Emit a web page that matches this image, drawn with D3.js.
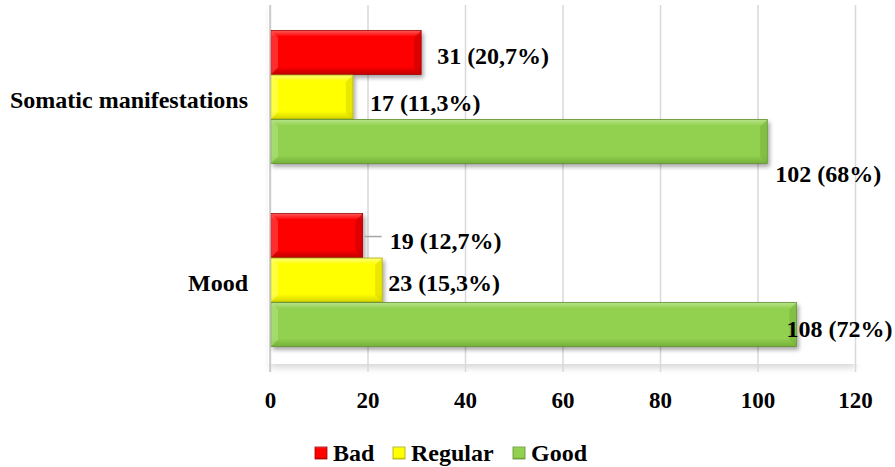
<!DOCTYPE html>
<html>
<head>
<meta charset="utf-8">
<script src="https://cdn.jsdelivr.net/npm/d3@7"></script>
<style>
  body { margin: 0; background: #fff; }
  text { font-family: "Liberation Serif", "Times New Roman", serif; font-weight: bold; }
</style>
</head>
<body>
<svg width="895" height="467"></svg>
<script>
var categories = ["Somatic manifestations", "Mood"];
var series = ["Bad", "Regular", "Good"];
var bad = [31, 19];
var regular = [17, 23];
var good = [102, 108];
var labels_bad = ["31 (20,7%)", "19 (12,7%)"];
var labels_regular = ["17 (11,3%)", "23 (15,3%)"];
var labels_good = ["102 (68%)", "108 (72%)"];
var x_ticks = [0, 20, 40, 60, 80, 100, 120];

var colors = { Bad: ["#ff5a5a", "#ff0000", "#c00000", "#a00000"],
               Regular: ["#ffff80", "#ffff00", "#d6d600", "#a8a800"],
               Good: ["#b8e48a", "#92d050", "#76b03a", "#5f8f2c"] };

// label nudges (dx, dy) relative to the bar end / centre, per series per category
var nudges = { Bad: [[16, 3], [27, 5]], Regular: [[17, 6], [6, 3]], Good: [[8, 32], [-10, 4]] };

var margin = { top: 5, left: 270 };
var svg = d3.select("svg");
var width = 855 - margin.left;
var height = 367;

const xscale = d3.scaleLinear().domain([0, 120]).range([0, width]);
const yscale = d3.scaleBand().domain(categories).range([0, height]).paddingInner(0.268).paddingOuter(0.1366);
const inner = d3.scaleBand().domain(series).range([0, yscale.bandwidth()]).padding(0.012);

var defs = svg.append("defs");
series.forEach(function (s) {
    var g = defs.append("linearGradient").attr("id", "grad_" + s)
        .attr("x1", 0).attr("x2", 0).attr("y1", 0).attr("y2", 1);
    g.append("stop").attr("offset", "0%").attr("stop-color", colors[s][0]);
    g.append("stop").attr("offset", "14%").attr("stop-color", colors[s][1]);
    g.append("stop").attr("offset", "82%").attr("stop-color", colors[s][1]);
    g.append("stop").attr("offset", "100%").attr("stop-color", colors[s][2]);
});
var f = defs.append("filter").attr("id", "shadow").attr("x", "-5%").attr("y", "-20%").attr("width", "115%").attr("height", "160%");
f.append("feDropShadow").attr("dx", 2).attr("dy", 3).attr("stdDeviation", 2).attr("flood-color", "#000").attr("flood-opacity", 0.35);
var pf = defs.append("filter").attr("id", "pshadow").attr("x", "-5%").attr("y", "-5%").attr("width", "110%").attr("height", "115%");
pf.append("feDropShadow").attr("dx", 0).attr("dy", 4).attr("stdDeviation", 3).attr("flood-color", "#000").attr("flood-opacity", 0.15);

var g = svg.append("g").attr("transform", `translate(${margin.left}, ${margin.top})`);

// plot area with soft shadow
g.append("rect").attr("x", 0).attr("y", 0).attr("width", width).attr("height", height - 8)
    .attr("fill", "#fff").attr("filter", "url(#pshadow)");
g.append("rect").attr("x", -2).attr("y", -10).attr("width", width + 30).attr("height", height + 2).attr("fill", "#fff");

const xAxis = d3.axisBottom(xscale).tickValues(x_ticks).tickSize(-height).tickPadding(20);
var ax = g.append("g").attr("transform", `translate(0, ${height})`).call(xAxis);
ax.select(".domain").remove();
ax.selectAll(".tick line").attr("stroke", "#d9d9d9").attr("stroke-width", 1.5);
ax.selectAll(".tick text").attr("font-size", 23).attr("fill", "#000")
    .style("font-family", "'Liberation Serif', serif").style("font-weight", "bold");

var rows = [];
categories.forEach(function (c, i) {
    rows.push({ cat: c, s: "Bad", v: bad[i], label: labels_bad[i], n: nudges.Bad[i] });
    rows.push({ cat: c, s: "Regular", v: regular[i], label: labels_regular[i], n: nudges.Regular[i] });
    rows.push({ cat: c, s: "Good", v: good[i], label: labels_good[i], n: nudges.Good[i] });
});

var bars = g.selectAll(".bar").data(rows).enter().append("g").attr("class", "bar")
    .attr("transform", function (d) { return `translate(0, ${yscale(d.cat) + inner(d.s)})`; });
bars.append("rect")
    .attr("x", 1).attr("y", 0)
    .attr("width", function (d) { return xscale(d.v) - 1; })
    .attr("height", inner.bandwidth())
    .attr("fill", function (d) { return "url(#grad_" + d.s + ")"; })
    .attr("stroke", function (d) { return colors[d.s][3]; })
    .attr("stroke-width", 0.8)
    .attr("filter", "url(#shadow)");
// bevel on right end
bars.append("path")
    .attr("d", function (d) {
        var x1 = xscale(d.v), h = inner.bandwidth(), b = 7;
        return `M${x1},0 L${x1},${h} L${x1 - b},${h - b} L${x1 - b},${b} Z`;
    })
    .attr("fill", function (d) { return colors[d.s][2]; }).attr("opacity", 0.55);
bars.append("path")
    .attr("d", function (d) {
        var h = inner.bandwidth(), b = 7;
        return `M1,0 L1,${h} L${1 + b},${h - b} L${1 + b},${b} Z`;
    })
    .attr("fill", function (d) { return colors[d.s][0]; }).attr("opacity", 0.5);

// leader line for the small Mood/Bad label
bars.filter(function (d) { return d.cat === "Mood" && d.s === "Bad"; })
    .append("line")
    .attr("x1", function (d) { return xscale(d.v) + 2; })
    .attr("x2", function (d) { return xscale(d.v) + 19; })
    .attr("y1", inner.bandwidth() / 2 + 1).attr("y2", inner.bandwidth() / 2 + 1)
    .attr("stroke", "#a6a6a6").attr("stroke-width", 1.5);

bars.append("text")
    .attr("x", function (d) { return xscale(d.v) + d.n[0]; })
    .attr("y", function (d) { return inner.bandwidth() / 2 + d.n[1]; })
    .attr("dy", "0.35em")
    .attr("font-size", 24)
    .text(function (d) { return d.label; });

// vertical axis line
g.append("line").attr("x1", 0).attr("x2", 0).attr("y1", 0).attr("y2", height)
    .attr("stroke", "#bfbfbf").attr("stroke-width", 1.2);

// category labels
g.selectAll(".cat").data(categories).enter().append("text")
    .attr("x", -22)
    .attr("y", function (d) { return yscale(d) + yscale.bandwidth() / 2 + 3; })
    .attr("dy", "0.35em")
    .attr("text-anchor", "end")
    .attr("font-size", 24)
    .text(function (d) { return d; });

// legend
var legend_x = [315, 393, 513];
var lg = svg.selectAll(".legend").data(series).enter().append("g")
    .attr("transform", function (d, i) { return `translate(${legend_x[i]}, 453)`; });
lg.append("rect").attr("x", 0).attr("y", -6).attr("width", 12).attr("height", 12)
    .attr("fill", function (d) { return "url(#grad_" + d + ")"; })
    .attr("stroke", function (d) { return colors[d][3]; }).attr("stroke-width", 0.8);
lg.append("text").attr("x", 18).attr("y", 0).attr("dy", "0.35em").attr("font-size", 24)
    .text(function (d) { return d; });
</script>
</body>
</html>
